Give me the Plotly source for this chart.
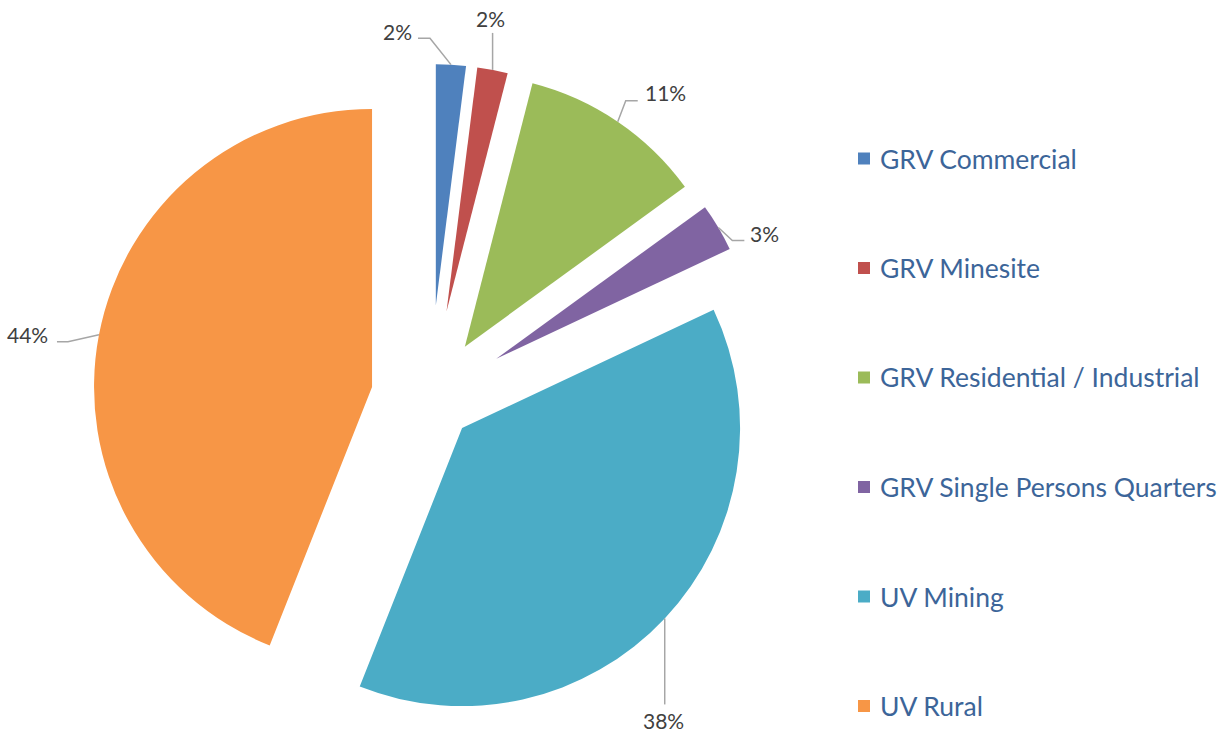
import math
import plotly.graph_objects as go

# --- data -------------------------------------------------------------------
categories = [
    "GRV Commercial",
    "GRV Minesite",
    "GRV Residential / Industrial",
    "GRV Single Persons Quarters",
    "UV Mining",
    "UV Rural",
]
shares = [2, 2, 11, 3, 38, 44]

# --- style ------------------------------------------------------------------
colors = ["#4F81BD", "#C0504D", "#9BBB59", "#8064A2", "#4BACC6", "#F79646"]
W, H = 1227, 733
CENTER = (430.0, 398.0)                  # common pie centre (px)
explode = [93, 88, 62, 77, 44, 59]       # per-slice pull distance (px)
radius = [241, 246, 272, 258, 278, 278]  # per-slice radius (px)

# leader line bends, line ends and label points, relative to the slice arc midpoint (px)
leader_elbow = [(-21, -26.5), None, (8, -21), (14, 13), None, (-31, 7)]
leader_end = [(-33, -26.5), (0, -37), (20, -21), (26, 13), (0, 86), (-42, 7)]
label_at = [(-37, -33), (-2, -51), (25, -29), (30, 6.5), (-1.5, 102), (-49, -0.5)]
label_anchor = ["right", "center", "left", "left", "center", "right"]

LINE_COLOR = "#A6A6A6"
LABEL_COLOR = "#404040"
LEGEND_COLOR = "#3C6599"
FONT = "Lato, 'Open Sans', sans-serif"


def px(x):
    return x / W


def py(y):
    return 1 - y / H


total = sum(shares)
fig = go.Figure()
shapes = []
annotations = []

cum = 0.0
for i, (name, v) in enumerate(zip(categories, shares)):
    mid = (cum + v / 2) / total * 2 * math.pi      # clockwise from 12 o'clock
    cum += v
    ux, uy = math.sin(mid), -math.cos(mid)
    ax = CENTER[0] + explode[i] * ux
    ay = CENTER[1] + explode[i] * uy
    r = radius[i]

    # one pie per slice so each wedge gets its own apex and radius
    fig.add_trace(go.Pie(
        labels=categories,
        values=shares,
        sort=False,
        direction="clockwise",
        rotation=0,
        textinfo="none",
        hoverinfo="label+percent",
        marker=dict(
            colors=[c if j == i else "rgba(0,0,0,0)" for j, c in enumerate(colors)],
            line=dict(width=0),
        ),
        domain=dict(x=[px(ax - r), px(ax + r)], y=[py(ay + r), py(ay - r)]),
        showlegend=False,
    ))

    # leader line and percentage label
    bx, by = ax + r * ux, ay + r * uy
    pts = [(bx, by)]
    if leader_elbow[i] is not None:
        pts.append((bx + leader_elbow[i][0], by + leader_elbow[i][1]))
    pts.append((bx + leader_end[i][0], by + leader_end[i][1]))
    path = "M " + " L ".join(f"{px(x):.5f},{py(y):.5f}" for x, y in pts)
    shapes.append(dict(type="path", path=path, xref="paper", yref="paper",
                       line=dict(color=LINE_COLOR, width=1.5)))
    annotations.append(dict(
        x=px(bx + label_at[i][0]), y=py(by + label_at[i][1]),
        xref="paper", yref="paper", showarrow=False,
        text=f"{v / total:.0%}", xanchor=label_anchor[i], yanchor="middle",
        font=dict(family=FONT, size=21, color=LABEL_COLOR),
    ))

# legend: square swatch + category name
for i, (name, c) in enumerate(zip(categories, colors)):
    yc = 158.5 + i * 109.5
    shapes.append(dict(type="rect", xref="paper", yref="paper",
                       x0=px(858), x1=px(870), y0=py(yc + 6), y1=py(yc - 6),
                       fillcolor=c, line=dict(width=0)))
    annotations.append(dict(
        x=px(878), y=py(yc), xref="paper", yref="paper", showarrow=False,
        text=name, xanchor="left", yanchor="middle",
        font=dict(family=FONT, size=26.5, color=LEGEND_COLOR),
    ))

fig.update_layout(
    width=W, height=H,
    margin=dict(l=0, r=0, t=0, b=0),
    paper_bgcolor="white",
    plot_bgcolor="white",
    showlegend=False,
    shapes=shapes,
    annotations=annotations,
)

fig.write_html("out.html")
